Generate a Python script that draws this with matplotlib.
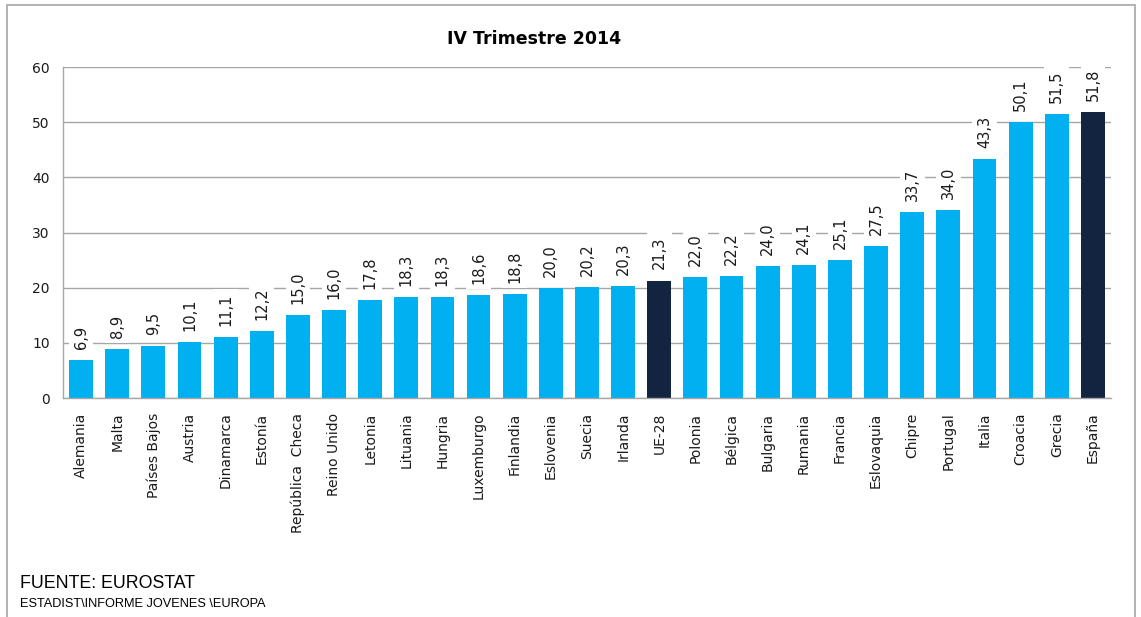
import matplotlib
matplotlib.use('Agg')
import matplotlib.pyplot as plt
from matplotlib.patches import Rectangle

paises = ['Alemania', 'Malta', 'Países Bajos', 'Austria', 'Dinamarca', 'Estonía',
          'República  Checa', 'Reino Unido', 'Letonia', 'Lituania', 'Hungria',
          'Luxemburgo', 'Finlandia', 'Eslovenia', 'Suecia', 'Irlanda', 'UE-28',
          'Polonia', 'Bélgica', 'Bulgaria', 'Rumania', 'Francia', 'Eslovaquia',
          'Chipre', 'Portugal', 'Italia', 'Croacia', 'Grecia', 'España']
valores = [6.9, 8.9, 9.5, 10.1, 11.1, 12.2, 15.0, 16.0, 17.8, 18.3, 18.3,
           18.6, 18.8, 20.0, 20.2, 20.3, 21.3, 22.0, 22.2, 24.0, 24.1, 25.1,
           27.5, 33.7, 34.0, 43.3, 50.1, 51.5, 51.8]
destacados = ['UE-28', 'España']

azul = '#00B0F0'
marino = '#12243F'
gris = '#A6A6A6'

plt.rcParams['font.family'] = 'DejaVu Sans'

fig = plt.figure(figsize=(11.41, 6.17), dpi=100, facecolor='white')
ax = fig.add_axes([0.0552, 0.3549, 0.9185, 0.5365])

colores = [marino if p in destacados else azul for p in paises]
x = list(range(len(paises)))
ax.bar(x, valores, width=0.66, color=colores, zorder=2)

# etiquetas de valor con fondo blanco (tapan la rejilla como en Excel)
for i, v in enumerate(valores):
    ax.text(i, v + 2.0, f'{v:.1f}'.replace('.', ','), rotation=90,
            ha='center', va='bottom', fontsize=10.5, color='#1a1a1a', zorder=4,
            bbox=dict(facecolor='white', edgecolor='none', pad=3.5))

ax.set_xlim(-0.5, len(paises) - 0.5)
ax.set_ylim(0, 60)
ax.set_yticks(range(0, 61, 10))
ax.yaxis.grid(True, color=gris, linewidth=1, zorder=0)
ax.set_axisbelow(True)

ax.set_xticks(x)
ax.set_xticklabels(paises, rotation=90, fontsize=10)
ax.tick_params(axis='both', length=0, labelsize=10, colors='#1a1a1a')
ax.tick_params(axis='x', pad=10.5)
ax.tick_params(axis='y', pad=9.5)

for lado in ['top', 'right']:
    ax.spines[lado].set_visible(False)
for lado in ['left', 'bottom']:
    ax.spines[lado].set_color(gris)
    ax.spines[lado].set_linewidth(1)

fig.text(534 / 1141, 1 - 39 / 617, 'IV Trimestre 2014', ha='center', va='center',
         fontsize=12.5, fontweight='bold')

fig.text(20 / 1141, 1 - 584 / 617, 'FUENTE: EUROSTAT', ha='left', va='center',
         fontsize=12.8, family='Liberation Sans')
fig.text(20 / 1141, 1 - 604 / 617, 'ESTADIST\\INFORME JOVENES \\EUROPA', ha='left',
         va='center', fontsize=9.2, family='Liberation Sans')

# marco exterior del gráfico
fig.patches.append(Rectangle((7 / 1141, -0.05), 1128 / 1141, 1.05 - 5 / 617,
                             transform=fig.transFigure, fill=False,
                             edgecolor=gris, linewidth=1.2))

plt.savefig('out.png', dpi=100, facecolor='white')
plt.close()
